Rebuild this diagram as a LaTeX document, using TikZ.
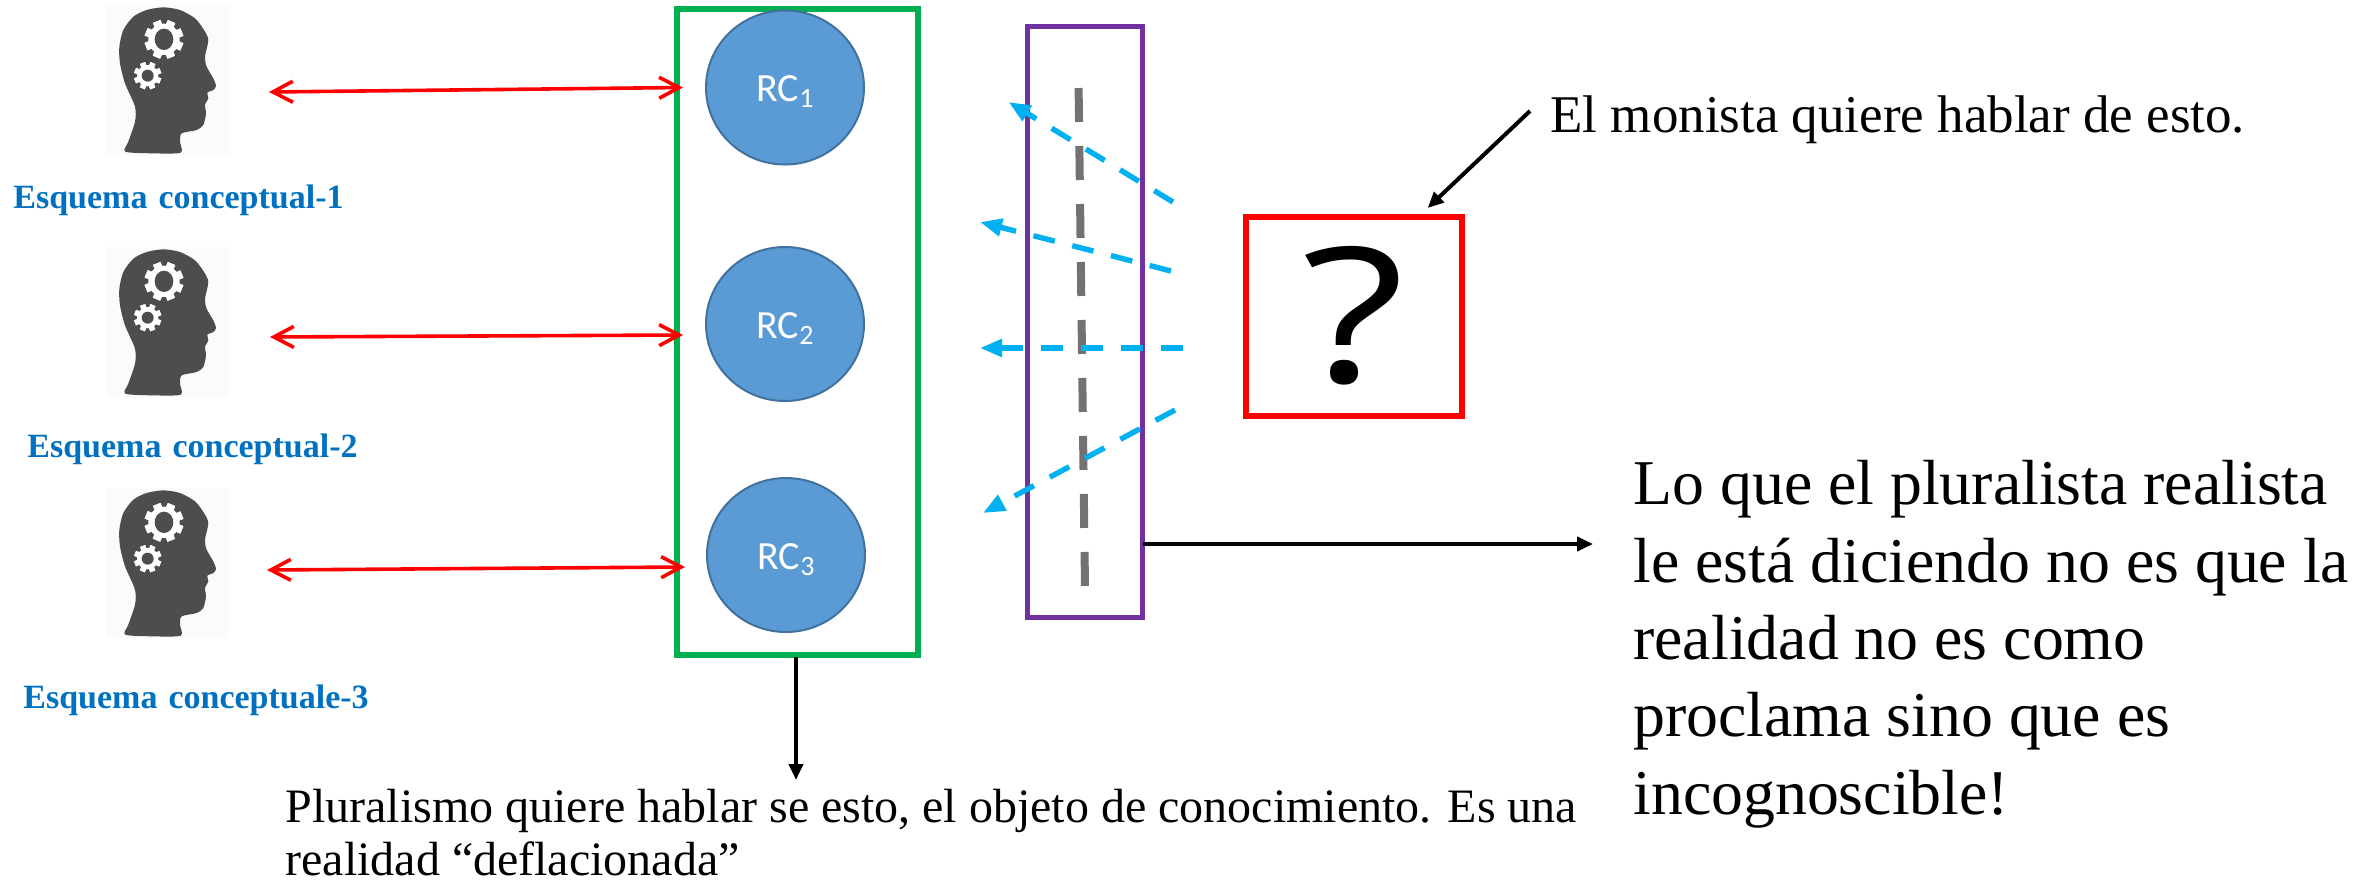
\documentclass[tikz,border=0pt]{standalone}
\usepackage{fontspec}
\setmainfont{Liberation Serif}
\newfontfamily\calib{Carlito}
\newfontfamily\qfont{Open Sans}
\usetikzlibrary{arrows.meta,shapes.geometric}
\definecolor{cgreen}{HTML}{00B050}
\definecolor{cpurple}{HTML}{7030A0}
\definecolor{ccirc}{HTML}{5B9BD5}
\definecolor{ccircb}{HTML}{41719C}
\definecolor{cdash}{HTML}{00B0F0}
\definecolor{cgray}{HTML}{767171}
\definecolor{chead}{HTML}{4D4D4D}
\definecolor{clabel}{HTML}{0070C0}
\newcommand{\rclabel}[1]{\raisebox{-7pt}[0pt][0pt]{\calib\fontsize{20}{24}\selectfont RC\raisebox{-3pt}{\fontsize{14}{16}\selectfont #1}}}
\tikzset{
  rcnode/.style={ellipse,draw=ccircb,line width=1pt,fill=ccirc,minimum width=79pt,minimum height=77pt,inner sep=0pt,text=white},
  boxnode/.style={rectangle,inner sep=0pt,fill=none},
  redarrow/.style={draw=red,line width=1.8pt,{Straight Barb[length=10pt,width=10.5pt]}-{Straight Barb[length=10pt,width=10.5pt]}},
  bluearrow/.style={draw=cdash,line width=2.7pt,dash pattern=on 11pt off 9pt,-{Triangle[length=11pt,width=8.5pt]}},
  blackarrow/.style={draw=black,line width=2pt,-{Triangle[length=8pt,width=7pt]}},
  schema/.style={anchor=base west,inner sep=0pt,text=clabel,font=\fontsize{17}{20}\selectfont\bfseries},
  bodytext/.style={anchor=base west,inner sep=0pt,text=black,font=\fontsize{24}{29}\selectfont},
  headicon/.pic={
    \fill[black!1.5] (317,15) rectangle (688,465);
    \fill[chead] plot[smooth cycle,tension=0.45] coordinates {(376,455)(385,425)(405,365)(405,320)(375,250)(360,190)(358,140)(370,90)(400,50)(440,30)(490,22)(540,30)(585,55)(612,90)(625,120)(615,170)(620,200)(640,235)(648,258)(640,270)(622,278)(625,295)(615,315)(618,340)(610,375)(590,390)(545,400)(540,425)(542,458)(460,460)};
    \fill[white] (492,118) circle[radius=47];
    \foreach \a in {0,45,...,315}{\fill[white,rotate around={\a+22:(492,118)}] (480,60) rectangle (504,176);}
    \fill[chead] (492,118) ellipse[x radius=28,y radius=32];
    \fill[white] (443,227) circle[radius=32];
    \foreach \a in {0,45,...,315}{\fill[white,rotate around={\a+22:(443,227)}] (435,186) rectangle (451,268);}
    \fill[chead] (443,227) circle[radius=18];
  }
}
\begin{document}
\begin{tikzpicture}[x=0.5pt,y=-0.5pt]
\useasboundingbox (0,0) rectangle (2379,885);
% heads
\pic[scale=1/3] at (0,0) {headicon};
\pic[scale=1/3] at (0,242) {headicon};
\pic[scale=1/3] at (0,483) {headicon};
% schema labels
\node[schema] (s1) at (13,208) {Esquema\hspace{5.5pt}conceptual-1};
\node[schema] (s2) at (27,457) {Esquema\hspace{5.5pt}conceptual-2};
\node[schema] (s3) at (23,708) {Esquema\hspace{5.5pt}conceptuale-3};
% boxes
\node[boxnode,draw=cgreen,line width=3pt,minimum width=120.5pt,minimum height=323pt] (green) at (797.5,332) {};
\node[rcnode] (rc1) at (785,87.5) {\rclabel{1}};
\node[rcnode] (rc2) at (785,324) {\rclabel{2}};
\node[rcnode] (rc3) at (786,555) {\rclabel{3}};
\node[boxnode,draw=cpurple,line width=2.5pt,minimum width=57.5pt,minimum height=295.5pt] (purple) at (1084.5,321.5) {};
\node[boxnode,draw=red,line width=3pt,minimum width=108pt,minimum height=99.5pt] (redbox) at (1353.5,316) {};
\node[anchor=base,inner sep=0pt,font=\qfont\fontsize{94}{100}\selectfont] (q) at (1354,382) {\scalebox{1.27}[1]{?}};
% free ends
\coordinate (h1) at (269,92);
\coordinate (h2) at (270,337);
\coordinate (h3) at (267,570);
\coordinate (g1) at (683,87.5);
\coordinate (g2) at (683,335);
\coordinate (g3) at (685,567);
\coordinate (gtop) at (1078.6,88);
\coordinate (gbot) at (1085,587);
\coordinate (b1s) at (1173,202);
\coordinate (b1e) at (1008.5,102);
\coordinate (b2s) at (1171,271);
\coordinate (b2e) at (980,222);
\coordinate (b3s) at (1182.5,348);
\coordinate (b3e) at (980,348);
\coordinate (b4s) at (1175,410);
\coordinate (b4e) at (983,513);
\coordinate (ms) at (1530,111);
\coordinate (me) at (1427.6,208);
\coordinate (ps) at (1143,544);
\coordinate (pe) at (1593,544);
\coordinate (gs) at (796,657);
\coordinate (ge) at (796,780);
% connectors
\draw[redarrow] (h1) -- (g1);
\draw[redarrow] (h2) -- (g2);
\draw[redarrow] (h3) -- (g3);
\draw[cgray,line width=4pt,dash pattern=on 17pt off 12pt] (gtop) -- (gbot);
\draw[bluearrow] (b1s) -- (b1e);
\draw[bluearrow] (b2s) -- (b2e);
\draw[bluearrow] (b3s) -- (b3e);
\draw[bluearrow] (b4s) -- (b4e);
\draw[blackarrow] (ms) -- (me);
\draw[blackarrow] (ps) -- (pe);
\draw[blackarrow] (gs) -- (ge);
% texts
\node[bodytext,font=\fontsize{26.5}{32}\selectfont] (mon) at (1550,132) {El monista quiere hablar de esto.};
\node[bodytext] (pl1) at (285,822) {Pluralismo quiere hablar se esto, el objeto de conocimiento. Es una};
\node[bodytext] (pl2) at (285,875) {realidad “deflacionada”};
\node[anchor=north west,inner sep=0pt,align=left,font=\fontsize{31.9}{38.7}\selectfont] (big) at (1633,460) {Lo que el pluralista realista\\le está diciendo no es que la\\realidad no es como\\proclama sino que es\\incognoscible!};
\end{tikzpicture}
\end{document}
